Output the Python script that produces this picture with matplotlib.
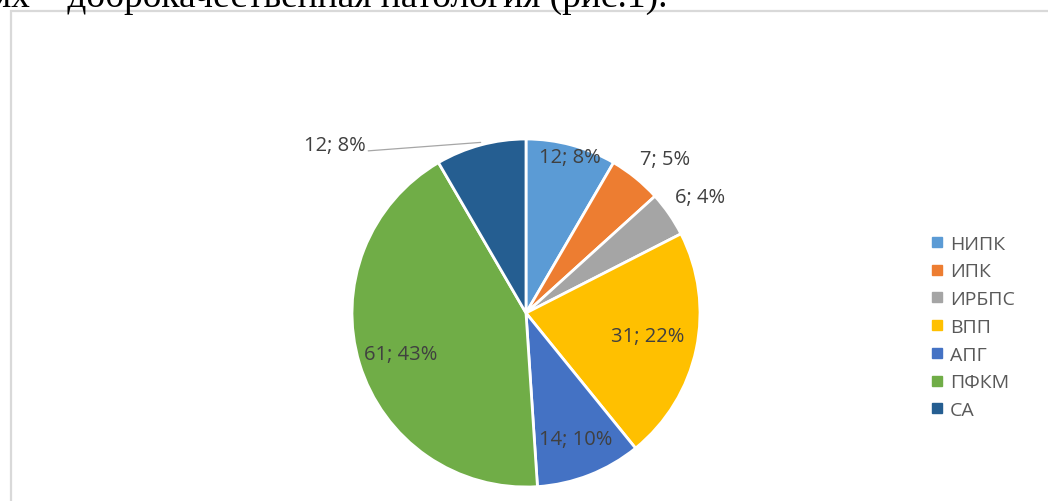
import numpy as np
import matplotlib
matplotlib.use("Agg")
import matplotlib.pyplot as plt
from matplotlib.lines import Line2D
from matplotlib.patches import Rectangle

# Структура патологии (рис.1)
categories = ["НИПК", "ИПК", "ИРБПС", "ВПП", "АПГ", "ПФКМ", "СА"]
counts = [12, 7, 6, 31, 14, 61, 12]
colors = ["#5B9BD5", "#ED7D31", "#A5A5A5", "#FFC000", "#4472C4", "#70AD47", "#255E91"]
# data label placement: radius (fraction of pie radius) and angle shift, deg
label_r = [0.93, 1.19, 1.2, 0.71, 0.78, 0.76, None]
label_dang = [-0.6, -3.0, -1.0, 1.0, 0.0, 1.0, 0.0]

W, H = 1048, 502
fig = plt.figure(figsize=(W / 100, H / 100), dpi=100)
fig.patch.set_facecolor("white")

# cut-off line of document text above the chart frame
fig.text(-6 / W, 1 - 7 / H, "ях – доброкачественная патология (рис.1).",
         family="Liberation Serif", fontsize=27, color="black",
         ha="left", va="baseline")

# chart frame
fig.patches.append(Rectangle((10.5 / W, -0.1), 1.2, 1 - 11.5 / H + 0.1,
                             transform=fig.transFigure, fill=False,
                             edgecolor="#D9D9D9", linewidth=1.6))

cx, cy, R = 526, 314, 174
ax = fig.add_axes([(cx - R) / W, (H - cy - R) / H, 2 * R / W, 2 * R / H])
wedges, _ = ax.pie(counts, colors=colors, startangle=90, counterclock=False,
                   radius=1.0, wedgeprops=dict(edgecolor="white", linewidth=2))
ax.set_xlim(-1, 1)
ax.set_ylim(-1, 1)
ax.set_aspect("auto")
ax.axis("off")

total = sum(counts)
font = ["Open Sans", "DejaVu Sans"]
txt_color = "#404040"
for w, c, r, da in zip(wedges, counts, label_r, label_dang):
    mid = np.deg2rad((w.theta1 + w.theta2) / 2)
    ang = np.deg2rad((w.theta1 + w.theta2) / 2 + da)
    s = f"{c}; {round(100 * c / total)}%"
    if r is None:
        # small slice at the top, label pulled out with a leader line
        ax.annotate(s, xy=(np.cos(mid), np.sin(mid) + 0.015),
                    xytext=(-1.10, 0.966), ha="center", va="center",
                    fontsize=14.5, family=font, color=txt_color,
                    arrowprops=dict(arrowstyle="-", color="#A6A6A6", lw=0.9,
                                    shrinkA=0, shrinkB=0,
                                    relpos=(1.03, 0.2)))
    else:
        ax.text(r * np.cos(ang), r * np.sin(ang), s, ha="center", va="center",
                fontsize=14.5, family=font, color=txt_color)

handles = [Line2D([], [], marker="s", linestyle="none", markersize=6.5,
                  markerfacecolor=col, markeredgecolor=col) for col in colors]
leg = fig.legend(handles, categories, loc="upper left",
                 bbox_to_anchor=(921 / W, 1 - 226 / H), frameon=False,
                 prop=dict(family=font, size=14), labelcolor="#595959",
                 handlelength=0.6, handletextpad=0.4, labelspacing=0.5,
                 borderpad=0)

fig.savefig("out.png", dpi=100, facecolor="white")
